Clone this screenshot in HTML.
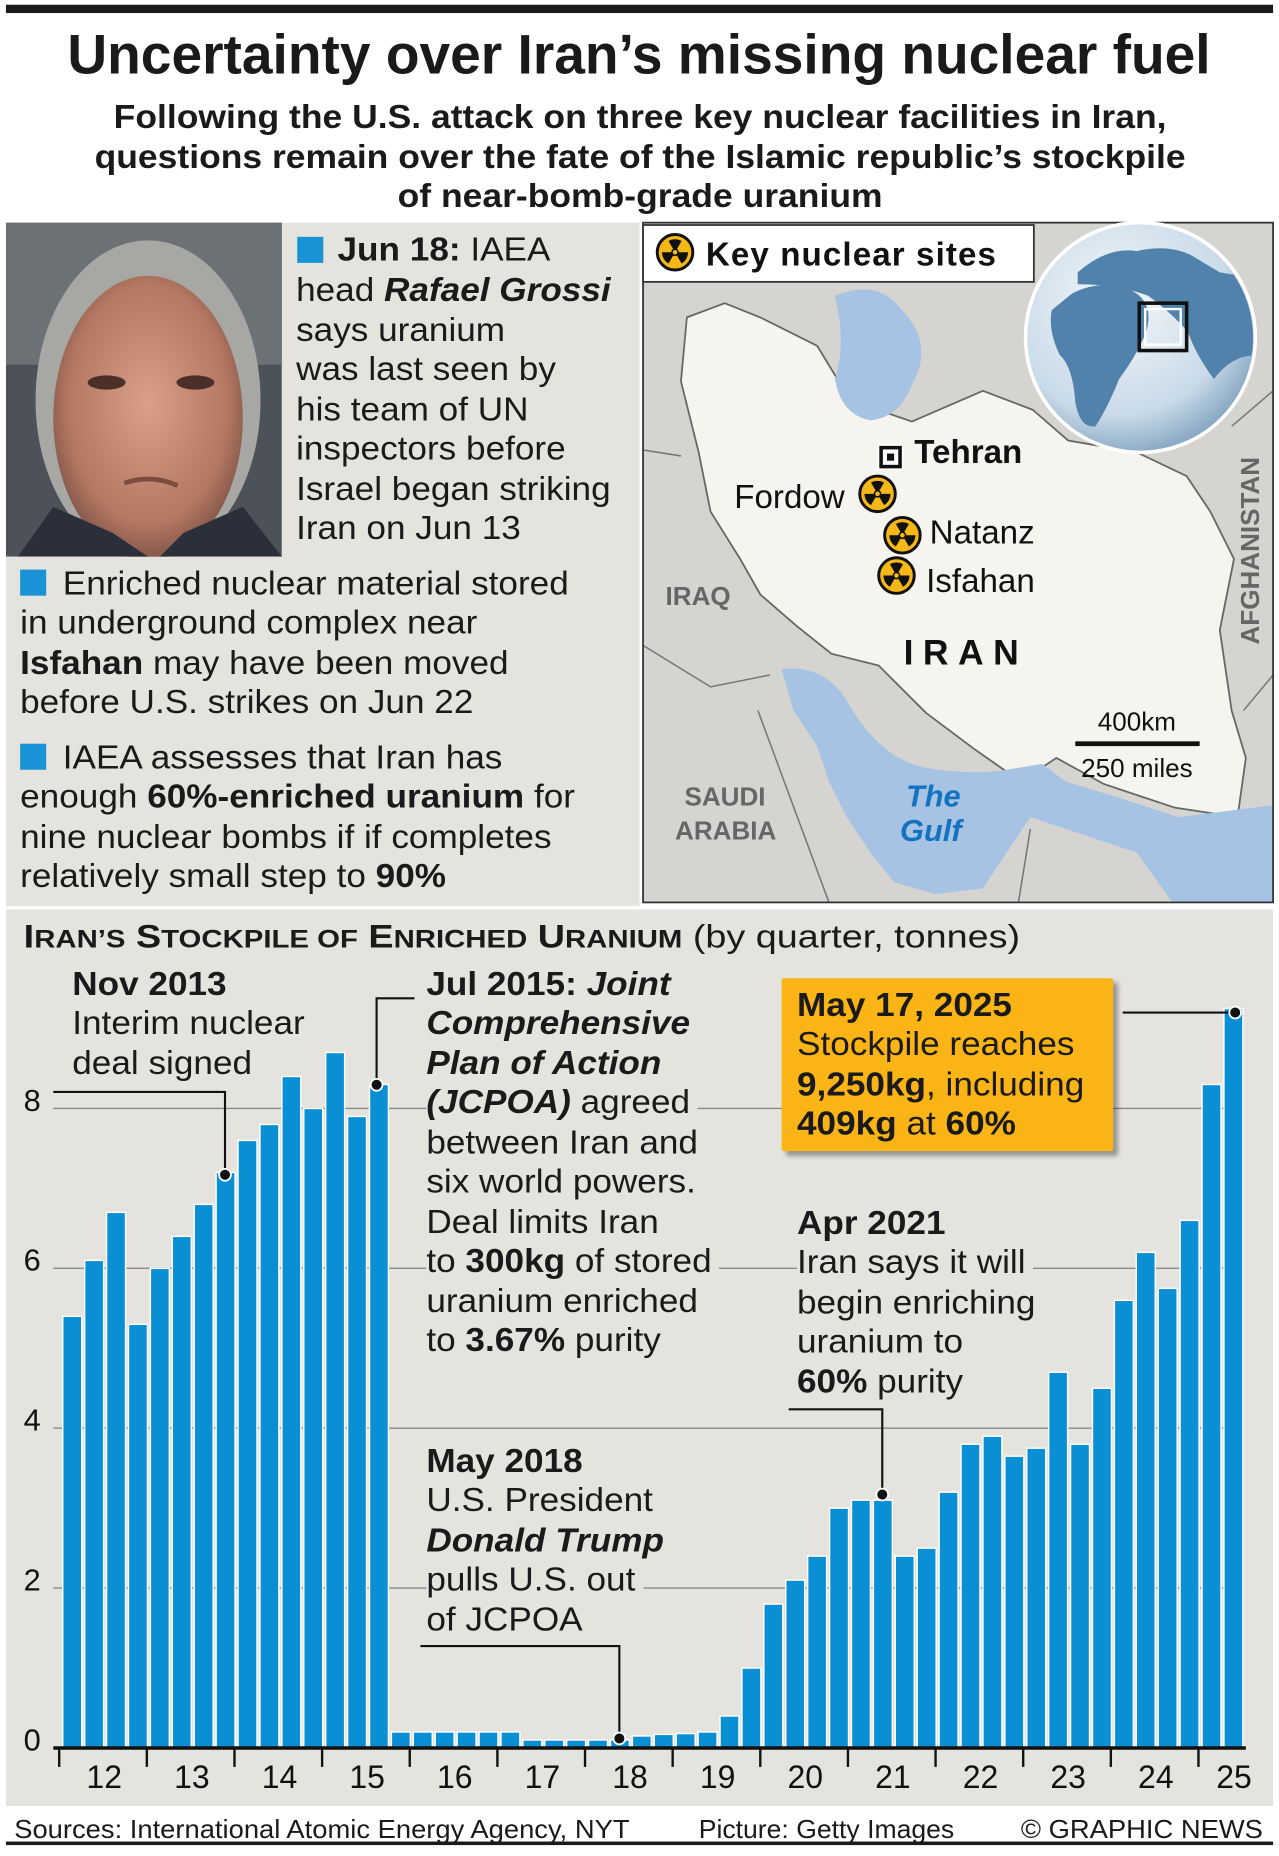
<!DOCTYPE html>
<html><head><meta charset="utf-8"><style>
*{margin:0;padding:0;box-sizing:border-box}
body{width:1279px;height:1855px;overflow:hidden;background:#fff;font-family:"Liberation Sans",sans-serif;color:#1a1a1a}
#w{position:absolute;left:0;top:0;width:1080px;height:1567px;transform:scale(1.18426);transform-origin:0 0}
.a{position:absolute;white-space:nowrap}
.t{position:absolute;white-space:nowrap;font-size:28px;line-height:28px;transform:translateY(-14px) scaleX(1.06);transform-origin:0 50%}
.c{position:absolute;left:0;width:1080px;text-align:center;white-space:nowrap}
.c span{display:inline-block}
b{font-weight:bold}
.bi{font-weight:bold;font-style:italic}
.bg{background:#e5e3de;padding-right:6px}
.sq{position:absolute;width:22px;height:22px;background:#1a93d6}
.sc{font-size:21px}
</style></head><body><div id="w">
<div class="a" style="left:5px;top:4px;width:1070px;height:7px;background:#1a1a1a"></div>
<div class="c" style="top:20px;font-size:47px;font-weight:bold;line-height:52px"><span style="transform:scaleX(.99)">Uncertainty over Iran’s missing nuclear fuel</span></div>
<div class="c" style="top:82px;font-size:28px;font-weight:bold;line-height:33.5px"><span style="transform:scaleX(1.07)">Following the U.S. attack on three key nuclear facilities in Iran,<br>questions remain over the fate of the Islamic republic’s stockpile<br>of near-bomb-grade uranium</span></div>

<!-- left panel -->
<div class="a" style="left:5px;top:188px;width:535px;height:577px;background:#e5e3de"></div>
<svg class="a" style="left:5px;top:188px" width="233" height="282">
<defs><radialGradient id="pf" cx="50%" cy="45%" r="60%"><stop offset="0" stop-color="#d9a08a"/><stop offset=".7" stop-color="#b57862"/><stop offset="1" stop-color="#6e4a40"/></radialGradient></defs>
<rect width="233" height="282" fill="#4d5258"/>
<rect x="0" y="0" width="233" height="120" fill="#6c7176"/>
<ellipse cx="120" cy="150" rx="95" ry="135" fill="#a7a7a3"/>
<ellipse cx="120" cy="165" rx="80" ry="120" fill="url(#pf)"/>
<path d="M10 282 L40 240 L90 262 L120 282 Z" fill="#2b2f3a"/><path d="M233 282 L200 240 L150 262 L130 282 Z" fill="#2b2f3a"/>
<ellipse cx="85" cy="135" rx="16" ry="6" fill="#4a3029"/><ellipse cx="160" cy="135" rx="16" ry="6" fill="#4a3029"/>
<path d="M100 220 Q122 212 145 222" stroke="#7d4a40" stroke-width="4" fill="none"/>
</svg>
<div class="sq" style="left:251px;top:200px"></div>
<div class="t" style="left:285px;top:211px"><b>Jun 18:</b> IAEA</div>
<div class="t" style="left:250px;top:245px">head <span class="bi">Rafael Grossi</span></div>
<div class="t" style="left:250px;top:279px">says uranium</div>
<div class="t" style="left:250px;top:312px">was last seen by</div>
<div class="t" style="left:250px;top:346px">his team of UN</div>
<div class="t" style="left:250px;top:379px">inspectors before</div>
<div class="t" style="left:250px;top:413px">Israel began striking</div>
<div class="t" style="left:250px;top:446px">Iran on Jun 13</div>
<div class="sq" style="left:17px;top:481px"></div>
<div class="t" style="left:53px;top:493px">Enriched nuclear material stored</div>
<div class="t" style="left:17px;top:526px">in underground complex near</div>
<div class="t" style="left:17px;top:560px"><b>Isfahan</b> may have been moved</div>
<div class="t" style="left:17px;top:593px">before U.S. strikes on Jun 22</div>
<div class="sq" style="left:17px;top:628px"></div>
<div class="t" style="left:53px;top:640px">IAEA assesses that Iran has</div>
<div class="t" style="left:17px;top:673px">enough <b>60%-enriched uranium</b> for</div>
<div class="t" style="left:17px;top:707px">nine nuclear bombs if if completes</div>
<div class="t" style="left:17px;top:740px">relatively small step to <b>90%</b></div>

<!-- map -->
<svg class="a" style="left:0;top:0" width="1080" height="780">
<defs>
<g id="nuc"><circle r="15" fill="#f5b817" stroke="#111" stroke-width="2.5"/><path d="M0 0 L-5.5 -9.5 A11 11 0 0 1 5.5 -9.5Z M0 0 L11 0 A11 11 0 0 1 5.5 9.5Z M0 0 L-5.5 9.5 A11 11 0 0 1 -11 0Z" fill="#111"/><circle r="2.6" fill="#f5b817" stroke="#111" stroke-width="1.3"/></g>
<radialGradient id="gl" cx="40%" cy="35%" r="70%"><stop offset="0" stop-color="#f4f8fb"/><stop offset=".7" stop-color="#c9dae8"/><stop offset="1" stop-color="#7d9fbd"/></radialGradient>
<clipPath id="mc"><rect x="543" y="188" width="532" height="574"/></clipPath>
<clipPath id="gc"><circle cx="963" cy="285" r="95"/></clipPath>
</defs>
<g clip-path="url(#mc)">
<rect x="543" y="188" width="532" height="574" fill="#d6d4d0"/>
<path d="M580 268 L612 256 L642 268 L690 292 L718 338 L770 356 L830 330 L872 346 L902 372 L960 382 L1002 402 L1022 432 L1042 472 L1030 532 L1040 600 L1052 640 L1045 690 L992 682 L932 662 L892 640 L862 660 L822 632 L782 602 L742 562 L702 552 L672 528 L642 502 L625 472 L600 432 L590 382 L575 322 Z" fill="#f6f4ef" stroke="#666" stroke-width="1.5"/>
<path d="M705 250 Q740 235 760 260 Q790 290 770 325 Q760 352 735 355 Q710 350 705 320 Q715 290 705 250Z" fill="#a6c3e3"/>
<path d="M660 565 Q700 560 720 600 Q745 640 780 648 Q820 655 850 650 L880 645 L900 660 L940 672 L995 690 L1075 680 L1075 762 L990 762 L960 720 L900 700 L870 690 L850 720 L830 750 L790 755 L755 745 L735 720 L715 690 L700 660 L690 630 L670 600 Z" fill="#a6c3e3"/>
<path d="M543 545 L600 580 L650 570 M543 380 L575 385 M1075 330 L1040 360 M1075 570 L1050 600 M870 700 L860 762 M640 600 L700 762" stroke="#777" stroke-width="1.3" fill="none"/>
</g>
<rect x="543" y="188" width="532" height="574" fill="none" stroke="#333" stroke-width="1.5"/>
<rect x="543" y="190" width="330" height="48" fill="#fff" stroke="#333" stroke-width="1.5"/>
<use href="#nuc" x="570" y="213"/>
<text x="596" y="224" font-size="28" font-weight="bold" font-family="Liberation Sans" fill="#111" textLength="245">Key nuclear sites</text>
<circle cx="963" cy="285" r="97" fill="url(#gl)" stroke="#fff" stroke-width="3"/>
<g clip-path="url(#gc)" fill="#5182ab">
<path d="M905 248 Q930 235 955 245 Q975 255 968 280 Q960 300 945 320 Q935 345 925 360 Q912 362 908 340 Q906 310 895 300 Q885 280 888 262Z"/>
<path d="M910 230 Q935 208 960 212 Q985 206 1005 215 L1030 230 L1060 235 L1060 300 Q1040 300 1025 320 Q1010 300 1003 280 Q990 265 970 250 Q945 240 910 240Z"/>
</g>
<rect x="962" y="256" width="40" height="40" fill="none" stroke="#111" stroke-width="3"/><rect x="967" y="261" width="30" height="30" fill="none" stroke="#fff" stroke-width="2"/>
<rect x="741" y="375" width="22" height="22" fill="#fff"/><rect x="744" y="378" width="16" height="16" fill="none" stroke="#111" stroke-width="3"/><rect x="749" y="383" width="6" height="6" fill="#111"/>
<use href="#nuc" x="741" y="417"/><use href="#nuc" x="762" y="452"/><use href="#nuc" x="757" y="486"/>
<g font-family="Liberation Sans">
<text x="772" y="391" font-size="28" font-weight="bold" fill="#111">Tehran</text>
<text x="620" y="429" font-size="28" fill="#111">Fordow</text>
<text x="785" y="459" font-size="28" fill="#111">Natanz</text>
<text x="782" y="500" font-size="28" fill="#111">Isfahan</text>
<text x="562" y="511" font-size="22" font-weight="bold" fill="#666">IRAQ</text>
<text x="763" y="561" font-size="30" font-weight="bold" fill="#111" letter-spacing="8">IRAN</text>
<text x="578" y="680" font-size="22" font-weight="bold" fill="#666">SAUDI</text>
<text x="570" y="709" font-size="22" font-weight="bold" fill="#666">ARABIA</text>
<text x="765" y="681" font-size="26" font-weight="bold" font-style="italic" fill="#1473c0">The</text>
<text x="760" y="710" font-size="26" font-weight="bold" font-style="italic" fill="#1473c0">Gulf</text>
<text x="1063" y="465" font-size="22" font-weight="bold" fill="#666" text-anchor="middle" transform="rotate(-90 1063 465)">AFGHANISTAN</text>
<text x="960" y="617" font-size="22" fill="#111" text-anchor="middle">400km</text>
<text x="960" y="656" font-size="22" fill="#111" text-anchor="middle">250 miles</text>
</g>
<rect x="908" y="626" width="105" height="4" fill="#111"/>
</svg>

<!-- chart -->
<div class="a" style="left:5px;top:768px;width:1070px;height:757px;background:#e5e3de"></div>
<svg class="a" style="left:0;top:0" width="1080" height="1567" id="ch"></svg>
<div class="t" style="left:20px;top:791px;font-size:27px;transform:translateY(-14px) scaleX(1.18)"><b>I<span class="sc">RAN’S</span> S<span class="sc">TOCKPILE OF</span> E<span class="sc">NRICHED</span> U<span class="sc">RANIUM</span></b> (by quarter, tonnes)</div>

<div class="t" style="left:61px;top:831px"><b>Nov 2013</b></div>
<div class="t" style="left:61px;top:864px">Interim nuclear</div>
<div class="t" style="left:61px;top:898px">deal signed</div>

<div class="t bg" style="left:360px;top:831px"><b>Jul 2015:</b> <span class="bi">Joint</span></div>
<div class="t bg" style="left:360px;top:864px"><span class="bi">Comprehensive</span></div>
<div class="t bg" style="left:360px;top:898px"><span class="bi">Plan of Action</span></div>
<div class="t bg" style="left:360px;top:931px"><span class="bi">(JCPOA)</span> agreed</div>
<div class="t bg" style="left:360px;top:965px">between Iran and</div>
<div class="t bg" style="left:360px;top:998px">six world powers.</div>
<div class="t bg" style="left:360px;top:1032px">Deal limits Iran</div>
<div class="t bg" style="left:360px;top:1065px">to <b>300kg</b> of stored</div>
<div class="t bg" style="left:360px;top:1099px">uranium enriched</div>
<div class="t bg" style="left:360px;top:1132px">to <b>3.67%</b> purity</div>

<div class="a" style="left:660px;top:826px;width:280px;height:146px;background:#fbb415;box-shadow:4px 4px 4px rgba(0,0,0,.35);border-radius:2px"></div>
<div class="t" style="left:673px;top:849px"><b>May 17, 2025</b></div>
<div class="t" style="left:673px;top:882px">Stockpile reaches</div>
<div class="t" style="left:673px;top:916px"><b>9,250kg</b>, including</div>
<div class="t" style="left:673px;top:949px"><b>409kg</b> at <b>60%</b></div>

<div class="t bg" style="left:673px;top:1033px"><b>Apr 2021</b></div>
<div class="t bg" style="left:673px;top:1066px">Iran says it will</div>
<div class="t bg" style="left:673px;top:1100px">begin enriching</div>
<div class="t bg" style="left:673px;top:1133px">uranium to</div>
<div class="t bg" style="left:673px;top:1167px"><b>60%</b> purity</div>

<div class="t bg" style="left:360px;top:1234px"><b>May 2018</b></div>
<div class="t bg" style="left:360px;top:1267px">U.S. President</div>
<div class="t bg" style="left:360px;top:1301px"><span class="bi">Donald Trump</span></div>
<div class="t bg" style="left:360px;top:1334px">pulls U.S. out</div>
<div class="t bg" style="left:360px;top:1368px">of JCPOA</div>

<div class="t" style="left:12px;top:1543px;font-size:22px;transform:translateY(-12px) scaleX(1.05)">Sources: International Atomic Energy Agency, NYT</div>
<div class="t" style="left:590px;top:1543px;font-size:22px;transform:translateY(-12px) scaleX(1.02)">Picture: Getty Images</div>
<div class="t" style="left:862px;top:1543px;font-size:22px;transform:translateY(-12px) scaleX(1.05)">© GRAPHIC NEWS</div>
<div class="a" style="left:5px;top:1555px;width:1070px;height:3px;background:#1a1a1a"></div>
</div>
<script>
var d=[5.4,6.1,6.7,5.3,6.0,6.4,6.8,7.2,7.6,7.8,8.4,8.0,8.7,7.9,8.3,0.2,0.2,0.2,0.2,0.2,0.2,0.1,0.1,0.1,0.1,0.1,0.15,0.17,0.18,0.2,0.4,1.0,1.8,2.1,2.4,3.0,3.1,3.1,2.4,2.5,3.2,3.8,3.9,3.65,3.75,4.7,3.8,4.5,5.6,6.2,5.75,6.6,8.3,9.25];
var s='',B=1476,k=67.5;
[8,6,4,2].forEach(function(v){var y=B-v*k;s+='<line x1="45" x2="1050" y1="'+y+'" y2="'+y+'" stroke="#8a8a8a" stroke-width="1.2"/>';});
[0,2,4,6,8].forEach(function(v){var y=B-v*k-8;s+='<text x="20" y="'+(y+10)+'" font-size="26" font-family="Liberation Sans" fill="#111">'+v+'</text>';});
d.forEach(function(v,i){var x=52+18.5*i,h=v*k;s+='<rect x="'+(x+1)+'" y="'+(B-h)+'" width="16" height="'+h+'" fill="#0a8fd4" stroke="#fff" stroke-width="1.2"/>';});
s+='<line x1="45" x2="1052" y1="'+B+'" y2="'+B+'" stroke="#111" stroke-width="3"/>';
for(var j=0;j<14;j++){var x=50+74*j;s+='<line x1="'+x+'" x2="'+x+'" y1="1477" y2="1492" stroke="#111" stroke-width="2"/>';s+='<text x="'+(j==13?1042:x+38)+'" y="1510" font-size="27" font-family="Liberation Sans" fill="#111" text-anchor="middle">'+(12+j)+'</text>';}
function L(p,dx,dy){s+='<polyline points="'+p+'" fill="none" stroke="#111" stroke-width="1.8"/><circle cx="'+dx+'" cy="'+dy+'" r="5" fill="#111" stroke="#fff" stroke-width="1.5"/>';}
L('45,922 190,922 190,992',190,992);
L('350,843 318,843 318,916',318,916);
L('948,855 1043,855 1043,857',1043,855);
L('666,1190 745,1190 745,1262',745,1262);
L('355,1390 523,1390 523,1468',523,1468);
document.getElementById('ch').innerHTML=s;
</script>
</body></html>
